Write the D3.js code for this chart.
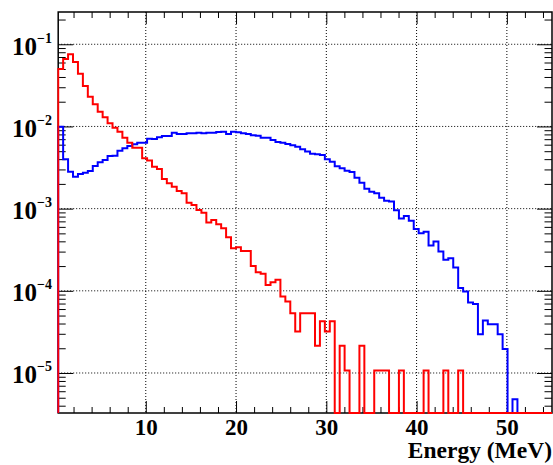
<!doctype html>
<html>
  <head>
    <meta charset="utf-8">
    <title>Energy spectra</title>
    <script src="https://cdnjs.cloudflare.com/ajax/libs/d3/7.8.5/d3.min.js"></script>
    <style>
      body { margin: 0; background: #fff; }
      text { font-family: "Liberation Serif", "Times New Roman", serif; font-weight: bold; fill: #000; }
    </style>
  </head>
  <body>
    <div id="chart"></div>
    <script>
      // histogram binning (MeV)
      const xMin = 0.3, xMax = 55, nBins = 100;

      // bin contents (0 = empty bin)
      const blueValues = [
        0.00995, 0.00399, 0.00282, 0.00245, 0.00264, 0.00274, 0.00288, 0.00331, 0.00367, 0.00391,
        0.00438, 0.00441, 0.00508, 0.00543, 0.00579, 0.00607, 0.00635, 0.00635, 0.00711, 0.00705,
        0.00740, 0.00766, 0.00766, 0.00841, 0.00811, 0.00811, 0.00826, 0.00826, 0.00841, 0.00826,
        0.00841, 0.00841, 0.00857, 0.00865, 0.00811, 0.00865, 0.00849, 0.00826, 0.00811, 0.00782,
        0.00773, 0.00731, 0.00731, 0.00686, 0.00648, 0.00635, 0.00612, 0.00590, 0.00567, 0.00528,
        0.00494, 0.00467, 0.00459, 0.00450, 0.00399, 0.00373, 0.00328, 0.00310, 0.00290, 0.00279,
        0.00238, 0.00207, 0.00174, 0.00161, 0.00154, 0.00136, 0.00125, 0.00122, 0.000957, 0.000756,
        0.000815, 0.000714, 0.000566, 0.000502, 0.000525, 0.000355, 0.000397, 0.000300, 0.000238, 0.000249,
        0.000192, 0.000108, 0.0000980, 0.0000720, 0.0000690, 0.0000296, 0.0000434, 0.0000392, 0.0000392, 0.0000296,
        0.0000196, 0, 0.0000048, 0, 0, 0, 0, 0, 0, 0
      ];
      const redValues = [
        0.0501, 0.0663, 0.0755, 0.0609, 0.0439, 0.0311, 0.0230, 0.0186, 0.0151, 0.01294,
        0.01094, 0.00967, 0.00865, 0.00731, 0.00635, 0.00552, 0.00552, 0.00410, 0.00384, 0.00324,
        0.00304, 0.00230, 0.00204, 0.00185, 0.00164, 0.00154, 0.00118, 0.00111, 0.000964, 0.000894,
        0.000676, 0.000729, 0.000646, 0.000577, 0.000449, 0.000330, 0.000339, 0.000306, 0.000306, 0.000201,
        0.000168, 0.000161, 0.000118, 0.000127, 0.000136, 0.0000850, 0.0000740, 0.0000534, 0.0000320, 0.0000534,
        0.0000534, 0.0000534, 0.0000214, 0.0000427, 0.0000320, 0.0000427, 0, 0.0000214, 0.0000107, 0,
        0, 0.0000214, 0, 0, 0.0000107, 0.0000107, 0.0000107, 0, 0, 0.0000107,
        0, 0, 0, 0, 0.0000107, 0, 0, 0, 0.0000107, 0,
        0, 0.0000107, 0, 0, 0, 0, 0, 0, 0, 0,
        0, 0, 0, 0, 0, 0, 0, 0, 0, 0
      ];

      const xTicks = [10, 20, 30, 40, 50];
      const yDecades = [1e-1, 1e-2, 1e-3, 1e-4, 1e-5];
      const yExponents = ["\u22121", "\u22122", "\u22123", "\u22124", "\u22125"];
      const xTitle = "Energy (MeV)";

      const W = 553, H = 465;
      const frame = { left: 58.2, right: 552, top: 12, bottom: 413 };

      const x = d3.scaleLinear().domain([xMin, xMax]).range([frame.left, frame.right]);
      const y = d3.scaleLog().domain([3.26e-6, 0.247]).range([frame.bottom, frame.top]);

      const svg = d3.select('#chart').append('svg')
        .attr('width', W)
        .attr('height', H);

      svg.append('defs').append('clipPath').attr('id', 'clip')
        .append('rect')
        .attr('x', frame.left - 1)
        .attr('y', frame.top)
        .attr('width', frame.right - frame.left + 2)
        .attr('height', frame.bottom - frame.top + 1.5);

      // dotted grid
      const grid = svg.append('g');
      grid.selectAll('line.gx').data(xTicks).join('line')
        .attr('x1', d => x(d)).attr('x2', d => x(d))
        .attr('y1', frame.top).attr('y2', frame.bottom);
      grid.selectAll('line.gy').data(yDecades).join('line')
        .attr('class', 'gy')
        .attr('x1', frame.left).attr('x2', frame.right)
        .attr('y1', d => y(d)).attr('y2', d => y(d));
      grid.selectAll('line')
        .attr('stroke', '#000')
        .attr('stroke-width', 1)
        .attr('stroke-dasharray', '1,2');

      // ticks (ROOT style: inward, on all four sides)
      const xMinor = d3.range(2, 55, 2).filter(v => v % 10 !== 0);
      const yMinor = [];
      [1e-6, 1e-5, 1e-4, 1e-3, 1e-2, 1e-1].forEach(d => {
        for (let m = 2; m <= 9; m++) {
          const v = m * d;
          if (v > y.domain()[0] && v < y.domain()[1]) yMinor.push(v);
        }
      });

      const axes = svg.append('g');
      const fmtNone = () => '';

      axes.append('g').attr('transform', `translate(0,${frame.bottom})`)
        .call(d3.axisBottom(x).tickValues(xTicks).tickSize(-12).tickPadding(5.5).tickFormat(d3.format('d')));
      axes.append('g').attr('transform', `translate(0,${frame.bottom})`)
        .call(d3.axisBottom(x).tickValues(xMinor).tickSize(-6).tickFormat(fmtNone));
      axes.append('g').attr('transform', `translate(0,${frame.top})`)
        .call(d3.axisTop(x).tickValues(xTicks).tickSize(-12).tickFormat(fmtNone));
      axes.append('g').attr('transform', `translate(0,${frame.top})`)
        .call(d3.axisTop(x).tickValues(xMinor).tickSize(-6).tickFormat(fmtNone));

      axes.append('g').attr('transform', `translate(${frame.left},0)`)
        .call(d3.axisLeft(y).tickValues(yDecades).tickSize(-15).tickFormat(fmtNone));
      axes.append('g').attr('transform', `translate(${frame.left},0)`)
        .call(d3.axisLeft(y).tickValues(yMinor).tickSize(-7.5).tickFormat(fmtNone));
      axes.append('g').attr('transform', `translate(${frame.right},0)`)
        .call(d3.axisRight(y).tickValues(yDecades).tickSize(-15).tickFormat(fmtNone));
      axes.append('g').attr('transform', `translate(${frame.right},0)`)
        .call(d3.axisRight(y).tickValues(yMinor).tickSize(-7.5).tickFormat(fmtNone));

      axes.selectAll('.domain').remove();
      axes.selectAll('.tick line').attr('stroke', '#000').attr('stroke-width', 1);
      axes.selectAll('.tick text')
        .style('font-family', '"Liberation Serif", serif')
        .style('font-weight', 'bold')
        .style('font-size', '23px')
        .attr('fill', '#000');

      // y labels 10^-n
      const yLab = svg.append('g').selectAll('text').data(yDecades).join('text')
        .attr('x', 52)
        .attr('y', d => y(d) + 10.5)
        .attr('text-anchor', 'end')
        .style('font-size', '25px');
      yLab.append('tspan').text('10');
      yLab.append('tspan')
        .attr('dy', -12)
        .style('font-size', '14px')
        .text((d, i) => yExponents[i]);

      // frame
      svg.append('rect')
        .attr('x', frame.left).attr('y', frame.top)
        .attr('width', frame.right - frame.left)
        .attr('height', frame.bottom - frame.top)
        .attr('fill', 'none')
        .attr('stroke', '#000')
        .attr('stroke-width', 1.5);

      // step outline of a histogram, empty bins drop to the frame bottom
      const binW = (xMax - xMin) / nBins;
      function stepPath(values) {
        const yv = v => v > 0 ? Math.min(y(v), frame.bottom) : frame.bottom;
        const pts = [[x(xMin), frame.bottom]];
        values.forEach((v, i) => {
          pts.push([x(xMin + i * binW), yv(v)]);
          pts.push([x(xMin + (i + 1) * binW), yv(v)]);
        });
        pts.push([x(xMax), frame.bottom]);
        return d3.line()(pts);
      }

      const hists = svg.append('g').attr('clip-path', 'url(#clip)');
      hists.append('path')
        .attr('d', stepPath(blueValues))
        .attr('fill', 'none')
        .attr('stroke', '#0000ff')
        .attr('stroke-width', 2);
      hists.append('path')
        .attr('d', stepPath(redValues))
        .attr('fill', 'none')
        .attr('stroke', '#ff0000')
        .attr('stroke-width', 2);

      // axis title
      svg.append('text')
        .attr('x', frame.right)
        .attr('y', 458)
        .attr('text-anchor', 'end')
        .style('font-size', '23.5px')
        .text(xTitle);
    </script>
  </body>
</html>
